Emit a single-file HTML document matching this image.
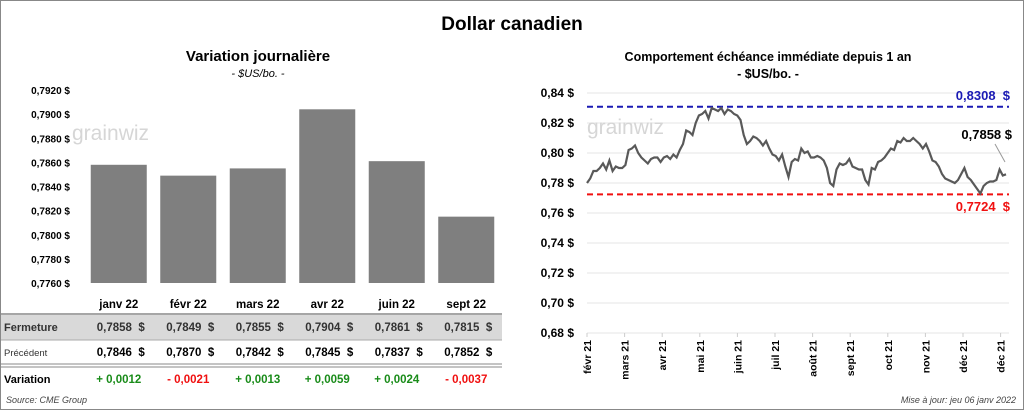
<!DOCTYPE html>
<html><head><meta charset="utf-8"><style>
body{margin:0;width:1024px;height:410px;background:#fff;font-family:"Liberation Sans",Arial,sans-serif;overflow:hidden}
svg text{font-family:"Liberation Sans",Arial,sans-serif}
</style></head><body>
<svg id="s" width="1024" height="410" viewBox="0 0 1024 410" xmlns="http://www.w3.org/2000/svg">
<rect x="0.5" y="0.5" width="1023" height="409" fill="#fff" stroke="#888"/>
<text x="512" y="30" text-anchor="middle" font-size="19" font-weight="bold">Dollar canadien</text>
<text x="258" y="61" text-anchor="middle" font-size="15" font-weight="bold">Variation  journalière</text>
<text x="258" y="77" text-anchor="middle" font-size="11" font-style="italic">- $US/bo. -</text>
<text x="768" y="61" text-anchor="middle" font-size="12.5" font-weight="bold">Comportement échéance immédiate depuis 1 an</text>
<text x="768" y="78" text-anchor="middle" font-size="12.5" font-weight="bold">- $US/bo. -</text>
<g id="left"></g>
<g id="table"></g>
<g id="right"></g>
<text x="6" y="403" font-size="9" font-style="italic" fill="#444">Source: CME Group</text>
<text x="1016" y="403" text-anchor="end" font-size="9" font-style="italic" fill="#444">Mise à jour: jeu 06 janv 2022</text>
</svg>
<script>
const months=["janv 22","févr 22","mars 22","avr 22","juin 22","sept 22"];
const closeVals=[0.7858,0.7849,0.7855,0.7904,0.7861,0.7815];
const prevVals=[0.7846,0.7870,0.7842,0.7845,0.7837,0.7852];
const leftTicks=[0.7760,0.7780,0.7800,0.7820,0.7840,0.7860,0.7880,0.7900,0.7920];
const lineTickLabels=["févr 21","mars 21","avr 21","mai 21","juin 21","juil 21","août 21","sept 21","oct 21","nov 21","déc 21","déc 21"];
const rightTicks=[0.68,0.70,0.72,0.74,0.76,0.78,0.80,0.82,0.84];
const series=[0.780,0.783,0.788,0.788,0.790,0.793,0.789,0.795,0.788,0.791,0.790,0.790,0.792,0.802,0.803,0.805,0.800,0.797,0.795,0.793,0.796,0.797,0.797,0.794,0.797,0.798,0.796,0.799,0.797,0.802,0.806,0.815,0.814,0.812,0.820,0.825,0.826,0.828,0.823,0.830,0.829,0.828,0.830,0.826,0.829,0.828,0.826,0.825,0.822,0.812,0.806,0.808,0.811,0.810,0.808,0.805,0.808,0.803,0.799,0.798,0.795,0.799,0.791,0.784,0.794,0.796,0.795,0.803,0.800,0.801,0.797,0.797,0.798,0.797,0.795,0.790,0.780,0.778,0.789,0.793,0.792,0.793,0.796,0.791,0.790,0.789,0.789,0.782,0.779,0.790,0.789,0.794,0.795,0.797,0.800,0.803,0.802,0.808,0.807,0.810,0.808,0.808,0.810,0.808,0.806,0.803,0.806,0.801,0.795,0.794,0.791,0.786,0.783,0.782,0.781,0.780,0.782,0.786,0.790,0.784,0.782,0.779,0.776,0.773,0.778,0.780,0.781,0.781,0.782,0.789,0.785,0.7858];
const maxVal=0.8308, minVal=0.7724, lastVal=0.7858;

const NS="http://www.w3.org/2000/svg";
function mk(p,tag,attrs,txt){const e=document.createElementNS(NS,tag);for(const k in attrs)e.setAttribute(k,attrs[k]);if(txt!==undefined)e.textContent=txt;p.appendChild(e);return e;}
const fmt4=v=>v.toFixed(4).replace('.',',');
const L=document.getElementById('left');
const ly=v=>283-(v-0.776)/(0.792-0.776)*193;
const lx=i=>84+(i+0.5)*69.5;
leftTicks.forEach(t=>{
 const g=mk(L,'text',{x:70,y:ly(t)+4,'text-anchor':'end','font-size':10,'font-weight':'bold'},fmt4(t)+' $');
 
 
});
mk(L,'text',{x:72,y:140,'font-size':21,fill:'#d6d6d6'},'grainwiz');
closeVals.forEach((v,i)=>{
 const r=mk(L,'rect',{x:lx(i)-28,y:ly(v),width:56,height:283-ly(v),fill:'#7f7f7f'});
 
 
});
const T=document.getElementById('table');
mk(T,'rect',{x:1,y:315,width:501,height:25,fill:'#d9d9d9'});
mk(T,'line',{x1:1,y1:314,x2:502,y2:314,stroke:'#888','stroke-width':1.5});
mk(T,'line',{x1:1,y1:340,x2:502,y2:340,stroke:'#aaa'});
mk(T,'line',{x1:1,y1:364,x2:502,y2:364,stroke:'#888','stroke-width':1});
mk(T,'line',{x1:1,y1:367,x2:502,y2:367,stroke:'#888','stroke-width':1});
const fl=mk(T,'text',{x:4,y:331,'font-size':11,'font-weight':'bold',fill:'#333'},'Fermeture');

const pl=mk(T,'text',{x:4,y:356,'font-size':9.5,fill:'#333'},'Précédent');

const vl=mk(T,'text',{x:4,y:383,'font-size':11,'font-weight':'bold'},'Variation');

months.forEach((m,i)=>{
 const cx=lx(i);
 const h=mk(T,'text',{x:cx,y:308,'text-anchor':'middle','font-size':11.5,'font-weight':'bold'},m);
 
 const c=mk(T,'text',{x:cx+26,y:331,'text-anchor':'end','font-size':11.5,'font-weight':'bold',fill:'#333'},fmt4(closeVals[i])+'  $');
 
 c.style.whiteSpace='pre';
 const p=mk(T,'text',{x:cx+26,y:356,'text-anchor':'end','font-size':11.5,'font-weight':'bold'},fmt4(prevVals[i])+'  $');
 
 p.style.whiteSpace='pre';
 const d=closeVals[i]-prevVals[i];
 const dv=mk(T,'text',{x:cx,y:383,'text-anchor':'middle','font-size':11.5,'font-weight':'bold',fill:d>=0?'#1a8c1a':'#f01010'},(d>=0?'+ ':'- ')+Math.abs(d).toFixed(4).replace('.',','));
 
});
const R=document.getElementById('right');
const x0=587,x1=1009,ryT=93,ryB=333;
const ry=v=>ryB-(v-0.68)/(0.84-0.68)*(ryB-ryT);
rightTicks.forEach(t=>{
 mk(R,'line',{x1:x0,y1:ry(t),x2:x1,y2:ry(t),stroke:'#e4e4e4'});
 const l=mk(R,'text',{x:574,y:ry(t)+4,'text-anchor':'end','font-size':12,'font-weight':'bold'},t.toFixed(2).replace('.',',')+' $');
 
});
lineTickLabels.forEach((m,i)=>{
 const x=x0+i*37.6;
 mk(R,'line',{x1:x,y1:ryB,x2:x,y2:ryB+4,stroke:'#ccc'});
 const l=mk(R,'text',{x:x+4,y:ryB+7,'text-anchor':'end','font-size':10.5,'font-weight':'bold',transform:`rotate(-90 ${x+4} ${ryB+7})`},m);
 
});
mk(R,'text',{x:587,y:134,'font-size':21,fill:'#d6d6d6'},'grainwiz');
const hx=i=>x0+i*(x1-3-x0)/(series.length-1);
const mx=mk(R,'line',{x1:x0,y1:ry(maxVal),x2:x1,y2:ry(maxVal),stroke:'#1a1ab4','stroke-width':2,'stroke-dasharray':'6,4'});

const mn=mk(R,'line',{x1:x0,y1:ry(minVal),x2:x1,y2:ry(minVal),stroke:'#f01010','stroke-width':2,'stroke-dasharray':'6,4'});

const path=mk(R,'path',{d:series.map((v,i)=>(i?'L':'M')+hx(i).toFixed(1)+','+ry(v).toFixed(1)).join(''),fill:'none',stroke:'#595959','stroke-width':2.2});

const t1=mk(R,'text',{x:1010,y:100,'text-anchor':'end','font-size':13,'font-weight':'bold',fill:'#1a1ab4'},fmt4(maxVal)+'  $');
t1.style.whiteSpace='pre';
const t2=mk(R,'text',{x:1010,y:211,'text-anchor':'end','font-size':13,'font-weight':'bold',fill:'#f01010'},fmt4(minVal)+'  $');
t2.style.whiteSpace='pre';
mk(R,'line',{x1:995,y1:144,x2:1005,y2:162,stroke:'#999'});
const t3=mk(R,'text',{x:1012,y:139,'text-anchor':'end','font-size':13,'font-weight':'bold'},fmt4(lastVal)+' $');

</script>
</body></html>
